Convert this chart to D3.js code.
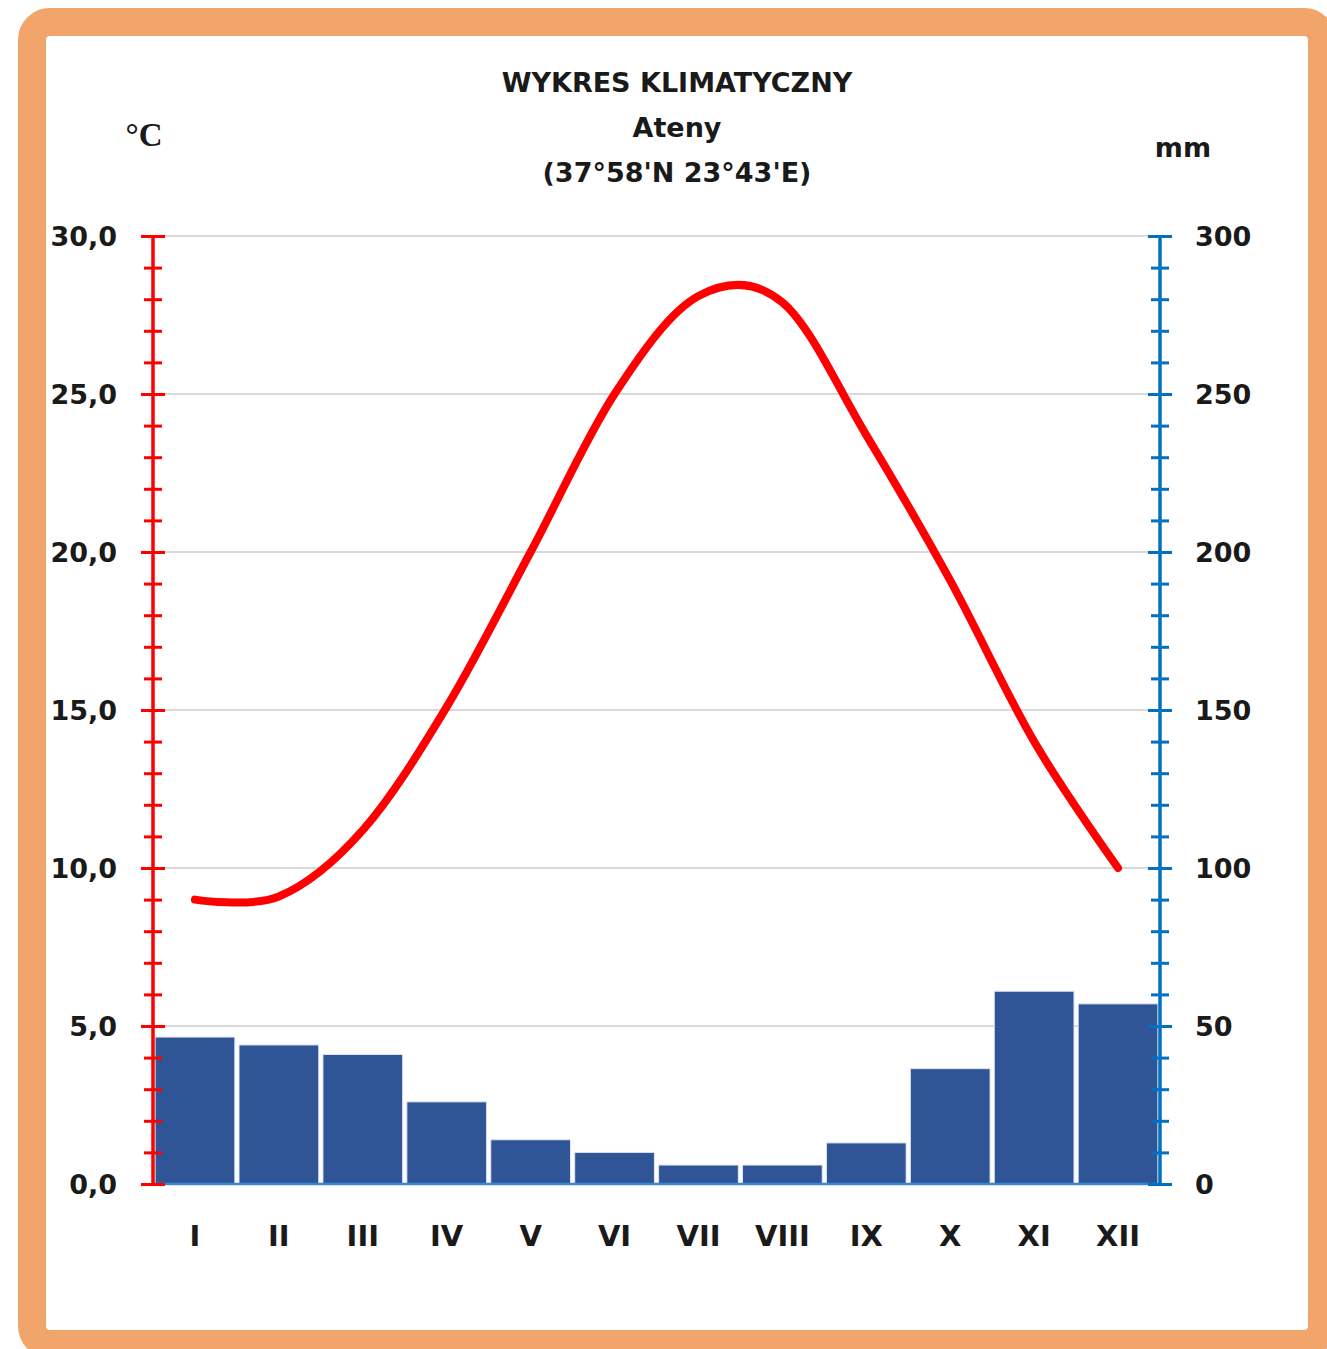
<!DOCTYPE html>
<html>
<head>
<meta charset="utf-8">
<script src="https://cdn.jsdelivr.net/npm/d3@7"></script>
<style>
  body { margin: 0; background: #ffffff; }
  #viz_container { width: 1327px; height: 1349px; }
  text { font-family: "DejaVu Sans", sans-serif; font-weight: bold; fill: #1a1a1a; }
</style>
</head>
<body>
<div id="viz_container"></div>
<script>
// monthly data
const months = ["I", "II", "III", "IV", "V", "VI", "VII", "VIII", "IX", "X", "XI", "XII"];
const temperature = [9.0, 9.1, 11.2, 15.1, 20.0, 25.0, 28.1, 27.9, 23.7, 19.1, 14.0, 10.0];
const precipitation = [46.5, 44, 41, 26, 14, 10, 6, 6, 13, 36.5, 61, 57];
const tempTicks = [0, 5, 10, 15, 20, 25, 30];
const precTicks = [0, 50, 100, 150, 200, 250, 300];
const titleLines = ["WYKRES KLIMATYCZNY", "Ateny", "(37°58'N 23°43'E)"];

const width = 1327;
const height = 1349;

const svg = d3
  .select("#viz_container")
  .append("svg")
  .attr("width", width)
  .attr("height", height)
  .attr("viewBox", `0 0 ${width} ${height}`);

// orange frame
svg
  .append("rect")
  .attr("x", 32)
  .attr("y", 22)
  .attr("width", 1290)
  .attr("height", 1322)
  .attr("rx", 18)
  .attr("fill", "#ffffff")
  .attr("stroke", "#F2A56B")
  .attr("stroke-width", 28);

const plotLeft = 153;
const plotRight = 1160;
const plotTop = 236;
const plotBottom = 1184;

const x = d3.scaleBand().domain(months).range([plotLeft, plotRight]).paddingInner(0.05).paddingOuter(0.025);
const xc = d3.scalePoint().domain(months).range([plotLeft, plotRight]).padding(0.5);
const yT = d3.scaleLinear().domain([0, 30]).range([plotBottom, plotTop]);
const yP = d3.scaleLinear().domain([0, 300]).range([plotBottom, plotTop]);

// gridlines
svg
  .append("g")
  .selectAll("line")
  .data(tempTicks.slice(1))
  .enter()
  .append("line")
  .attr("x1", plotLeft)
  .attr("x2", plotRight)
  .attr("y1", (d) => yT(d))
  .attr("y2", (d) => yT(d))
  .attr("stroke", "#D9D9D9")
  .attr("stroke-width", 2);

// precipitation bars
svg
  .append("g")
  .selectAll("rect")
  .data(precipitation)
  .enter()
  .append("rect")
  .attr("x", (d, i) => x(months[i]))
  .attr("y", (d) => yP(d))
  .attr("width", x.bandwidth())
  .attr("height", (d) => yP(0) - yP(d))
  .attr("fill", "#2F5597")
  .attr("stroke", "#dce6f4")
  .attr("stroke-width", 1);

// category baseline
svg
  .append("line")
  .attr("x1", plotLeft)
  .attr("x2", plotRight)
  .attr("y1", plotBottom)
  .attr("y2", plotBottom)
  .attr("stroke", "#3A86D0")
  .attr("stroke-width", 2.5);

// temperature line
const line = d3
  .line()
  .x((d, i) => xc(months[i]))
  .y((d) => yT(d))
  .curve(d3.curveCatmullRom.alpha(0));

svg
  .append("path")
  .datum(temperature)
  .attr("d", line)
  .attr("fill", "none")
  .attr("stroke", "#FF0000")
  .attr("stroke-width", 8)
  .attr("stroke-linecap", "round")
  .attr("stroke-linejoin", "round");

// axis helper: ticks that cross the axis line
function drawAxis(scale, xPos, majors, minors, color, labelFmt, side) {
  const minorAxis = d3.axisLeft(scale).tickValues(minors).tickSize(9).tickFormat("");
  const gMin = svg.append("g").attr("transform", `translate(${xPos},0)`).call(minorAxis);
  gMin.select(".domain").remove();
  gMin.selectAll(".tick line").attr("x1", -9).attr("x2", 9).attr("stroke", color).attr("stroke-width", 3);

  const majorAxis = d3.axisLeft(scale).tickValues(majors).tickSize(12).tickFormat("");
  const gMaj = svg.append("g").attr("transform", `translate(${xPos},0)`).call(majorAxis);
  gMaj.select(".domain").remove();
  gMaj.selectAll(".tick line").attr("x1", -12).attr("x2", 12).attr("stroke", color).attr("stroke-width", 3);

  svg
    .append("line")
    .attr("x1", xPos)
    .attr("x2", xPos)
    .attr("y1", plotTop)
    .attr("y2", plotBottom)
    .attr("stroke", color)
    .attr("stroke-width", 3.5);

  svg
    .append("g")
    .selectAll("text")
    .data(majors)
    .enter()
    .append("text")
    .attr("x", side === "left" ? xPos - 36 : xPos + 35)
    .attr("y", (d) => scale(d))
    .attr("dy", "0.36em")
    .attr("text-anchor", side === "left" ? "end" : "start")
    .style("font-size", "27px")
    .text(labelFmt);
}

drawAxis(yT, plotLeft, tempTicks, d3.range(0, 31, 1), "#FF0000", (d) => d.toFixed(1).replace(".", ","), "left");
drawAxis(yP, plotRight, precTicks, d3.range(0, 301, 10), "#0070C0", (d) => d, "right");

// month labels
svg
  .append("g")
  .selectAll("text")
  .data(months)
  .enter()
  .append("text")
  .attr("x", (d) => xc(d))
  .attr("y", 1246)
  .attr("text-anchor", "middle")
  .style("font-size", "29px")
  .text((d) => d);

// title
svg
  .append("g")
  .selectAll("text")
  .data(titleLines)
  .enter()
  .append("text")
  .attr("x", 677)
  .attr("y", (d, i) => 92 + i * 45)
  .attr("text-anchor", "middle")
  .style("font-size", "27px")
  .text((d) => d);

// unit labels
svg
  .append("text")
  .attr("x", 144)
  .attr("y", 146)
  .attr("text-anchor", "middle")
  .style("font-family", "'Liberation Serif', serif")
  .style("font-size", "33px")
  .text("°C");

svg
  .append("text")
  .attr("x", 1183)
  .attr("y", 157)
  .attr("text-anchor", "middle")
  .style("font-size", "27px")
  .text("mm");
</script>
</body>
</html>
